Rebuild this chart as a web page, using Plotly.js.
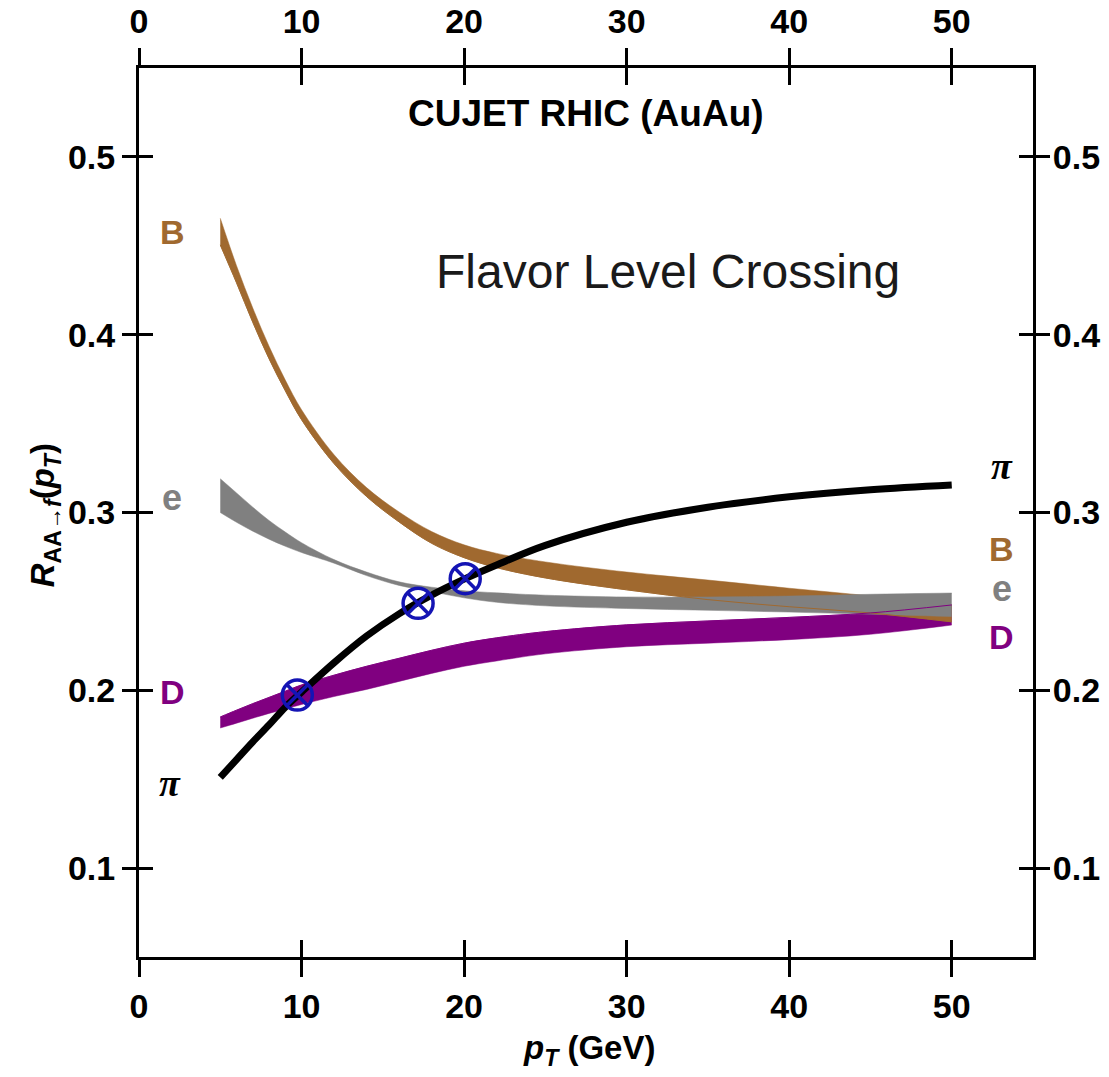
<!DOCTYPE html>
<html>
<head>
<meta charset="utf-8">
<script src="https://cdn.plot.ly/plotly-3.0.1.min.js"></script>
<style>
  html, body { margin: 0; padding: 0; background: #fff; }
  #chart { width: 1109px; height: 1077px; }
</style>
</head>
<body>
<div id="chart"></div>
<script>
// Transverse momentum grid (GeV)
const pT = [5, 6, 7, 8, 9, 10, 12, 14, 16, 18, 20, 22, 25, 30, 35, 40, 45, 50];

// Light hadrons (pi): single curve
const piRAA = [0.151, 0.161, 0.171, 0.1805, 0.1905, 0.199, 0.2155, 0.2305, 0.243, 0.2535,
               0.2625, 0.2705, 0.2815, 0.2945, 0.303, 0.3088, 0.3128, 0.3155];

// B mesons: band edges
const bUpper = [0.4655, 0.4388, 0.415, 0.3935, 0.3745, 0.3578, 0.3325, 0.314, 0.3003, 0.2893,
                0.2818, 0.277, 0.2722, 0.2665, 0.262, 0.2574, 0.2531, 0.2481];
const bLower = [0.4505, 0.4292, 0.407, 0.3865, 0.3685, 0.3522, 0.3275, 0.309, 0.2947, 0.2827,
                0.2746, 0.269, 0.2632, 0.2565, 0.251, 0.247, 0.2435, 0.2385];

// Non-photonic electrons: band edges
const eUpper = [0.319, 0.311, 0.303, 0.2955, 0.289, 0.283, 0.2735, 0.2665, 0.261, 0.258,
                0.256, 0.2548, 0.2535, 0.2525, 0.2525, 0.253, 0.254, 0.2547];
const eLower = [0.300, 0.2945, 0.2895, 0.285, 0.281, 0.2775, 0.2715, 0.2645, 0.259, 0.2555,
                0.252, 0.2495, 0.2475, 0.246, 0.245, 0.244, 0.2428, 0.2415];

// D mesons: band edges
const dUpper = [0.185, 0.1888, 0.1925, 0.196, 0.1995, 0.203, 0.2085, 0.2135, 0.218, 0.2225,
                0.2265, 0.2295, 0.233, 0.2368, 0.239, 0.241, 0.2435, 0.248];
const dLower = [0.1788, 0.1815, 0.1843, 0.187, 0.1895, 0.192, 0.1965, 0.2005, 0.205, 0.2095,
                0.2135, 0.2165, 0.2205, 0.2245, 0.2265, 0.2285, 0.2315, 0.2367];

// Level-crossing points
const crossX = [9.74, 17.17, 20.07];
const crossY = [0.1973, 0.2489, 0.2628];

// Axis ticks
const xTicks = [0, 10, 20, 30, 40, 50];
const xTickText = ['0', '10', '20', '30', '40', '50'];
const yTicks = [0.1, 0.2, 0.3, 0.4, 0.5];
const yTickText = ['0.1', '0.2', '0.3', '0.4', '0.5'];

const COL_B = '#a0692f';
const COL_E = '#808080';
const COL_D = '#800080';
const COL_X = '#1414b4';
const SANS = 'Liberation Sans, Arial, sans-serif';
const SERIF = 'Liberation Serif, Times New Roman, serif';

function band(lower, upper, color) {
  return [
    { x: pT, y: lower, type: 'scatter', mode: 'lines', line: { color: color, width: 0.5, shape: 'spline' },
      hoverinfo: 'skip', showlegend: false },
    { x: pT, y: upper, type: 'scatter', mode: 'lines', fill: 'tonexty', fillcolor: color,
      line: { color: color, width: 0.5, shape: 'spline' }, hoverinfo: 'skip', showlegend: false }
  ];
}

const traces = [
  ...band(dLower, dUpper, COL_D),
  ...band(bLower, bUpper, COL_B),
  ...band(eLower, eUpper, COL_E),
  // band edges that stay visible through the electron band
  { x: pT, y: bLower, type: 'scatter', mode: 'lines', line: { color: COL_B, width: 1, shape: 'spline' }, showlegend: false },
  { x: pT, y: dUpper, type: 'scatter', mode: 'lines', line: { color: COL_D, width: 1, shape: 'spline' }, showlegend: false },
  { x: pT, y: piRAA, type: 'scatter', mode: 'lines', line: { color: '#000', width: 7, shape: 'spline' }, showlegend: false },
  { x: crossX, y: crossY, type: 'scatter', mode: 'markers',
    marker: { symbol: 'circle-x-open', size: 30, color: COL_X, line: { width: 3.5, color: COL_X } }, showlegend: false },
  // empty trace so the top/right companion axes get drawn
  { x: [], y: [], type: 'scatter', mode: 'markers', xaxis: 'x2', yaxis: 'y2', showlegend: false, hoverinfo: 'skip' }
];

const tickFont = { family: SANS, size: 34, weight: 'bold', color: '#000' };

const axisBase = {
  showgrid: false, zeroline: false, showline: true, linewidth: 3, linecolor: '#000',
  tickwidth: 3, tickcolor: '#000', mirror: 'allticks', tickfont: tickFont, fixedrange: true
};

const layout = {
  width: 1109, height: 1077,
  margin: { l: 139, r: 76, t: 68, b: 120 },
  paper_bgcolor: '#fff', plot_bgcolor: '#fff',
  showlegend: false,
  xaxis: Object.assign({}, axisBase, {
    range: [0, 55], tickmode: 'array', tickvals: xTicks, ticktext: xTickText,
    ticks: 'outside', ticklen: 17, side: 'bottom'
  }),
  xaxis2: Object.assign({}, axisBase, {
    range: [0, 55], tickmode: 'array', tickvals: xTicks, ticktext: xTickText,
    ticks: 'inside', ticklen: 17, side: 'top', overlaying: 'x', anchor: 'y', ticklabelstandoff: 18
  }),
  yaxis: Object.assign({}, axisBase, {
    range: [0.05, 0.55], tickmode: 'array', tickvals: yTicks, ticktext: yTickText,
    ticks: 'outside', ticklen: 14, side: 'left'
  }),
  yaxis2: Object.assign({}, axisBase, {
    range: [0.05, 0.55], tickmode: 'array', tickvals: yTicks, ticktext: yTickText,
    ticks: 'inside', ticklen: 14, side: 'right', overlaying: 'y', anchor: 'x', ticklabelstandoff: 10
  }),
  annotations: [
    { text: '<b>CUJET RHIC (AuAu)</b>', xref: 'paper', yref: 'paper', x: 0.5, y: 0.949,
      xanchor: 'center', yanchor: 'middle', showarrow: false, font: { family: SANS, size: 37, color: '#000' } },
    { text: 'Flavor Level Crossing', xref: 'x', yref: 'y', x: 32.55, y: 0.4353,
      xanchor: 'center', yanchor: 'middle', showarrow: false, font: { family: SANS, size: 48, color: '#1a1a1a' } },
    { text: '<b><i>R</i><sub>AA→<i>f</i></sub>(<i>p<sub>T</sub></i>)</b>', xref: 'paper', yref: 'paper',
      x: -0.105, y: 0.497, xanchor: 'center', yanchor: 'middle', textangle: -90, showarrow: false,
      font: { family: SANS, size: 33, color: '#000' } },
    { text: '<b><i>p<sub>T</sub></i> (GeV)</b>', xref: 'paper', yref: 'paper', x: 0.503, y: -0.105,
      xanchor: 'center', yanchor: 'middle', showarrow: false, font: { family: SANS, size: 33, color: '#000' } },
    // curve labels, left side
    { text: '<b>B</b>', x: 2.03, y: 0.4578, showarrow: false, font: { family: SANS, size: 34, color: COL_B } },
    { text: '<b>e</b>', x: 2.03, y: 0.3087, showarrow: false, font: { family: SANS, size: 36, color: COL_E } },
    { text: '<b>D</b>', x: 2.03, y: 0.199, showarrow: false, font: { family: SANS, size: 34, color: COL_D } },
    { text: '<b><i>π</i></b>', x: 1.9, y: 0.1478, showarrow: false, font: { family: SERIF, size: 38, color: '#000' } },
    // curve labels, right side
    { text: '<b><i>π</i></b>', x: 53.08, y: 0.3262, showarrow: false, font: { family: SERIF, size: 38, color: '#000' } },
    { text: '<b>B</b>', x: 53.08, y: 0.2795, showarrow: false, font: { family: SANS, size: 34, color: COL_B } },
    { text: '<b>e</b>', x: 53.08, y: 0.2575, showarrow: false, font: { family: SANS, size: 36, color: COL_E } },
    { text: '<b>D</b>', x: 53.08, y: 0.23, showarrow: false, font: { family: SANS, size: 34, color: COL_D } }
  ]
};

Plotly.newPlot('chart', traces, layout, { staticPlot: true, displayModeBar: false });
</script>
</body>
</html>
